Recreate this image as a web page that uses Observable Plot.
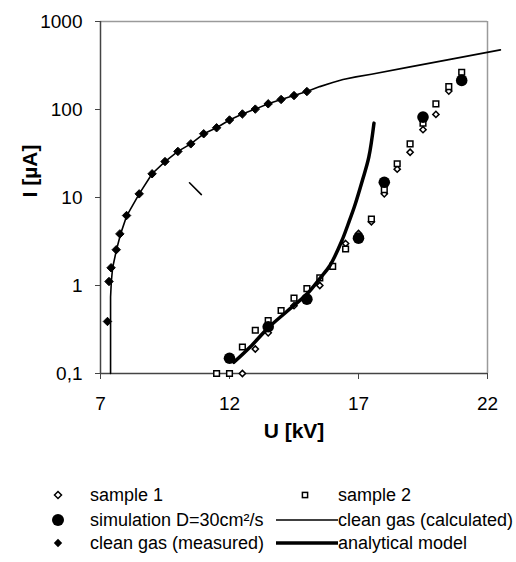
<!DOCTYPE html>
<html><head><meta charset="utf-8">
<script src="https://cdn.jsdelivr.net/npm/d3@7"></script>
<script src="https://cdn.jsdelivr.net/npm/@observablehq/plot@0.6"></script>
<style>
body{margin:0;background:#fff;font-family:"Liberation Sans",Arial,sans-serif;}
#legend{position:relative;width:516px;height:92px;font-size:18px;color:#000;}
#legend .sw{position:absolute;}
#legend .tx{position:absolute;line-height:22px;white-space:nowrap;}
</style></head>
<body><div id="chart"></div><div id="legend"></div>
<script>
// ---- data ----
const xTicks = [7, 12, 17, 22];
const yTicks = [0.1, 1, 10, 100, 1000];
const yTickLabels = ["0,1", "1", "10", "100", "1000"];

const sample1U = [12.5, 13.0, 13.5, 14.5, 15.5, 16.5, 17.0, 17.5, 18.0, 18.5, 19.0, 19.5, 20.0, 20.5];
const sample1I = [0.1, 0.19, 0.29, 0.59, 1.0, 3.0, 3.9, 5.3, 11.0, 21, 32.7, 59, 88, 162];

const sample2U = [11.5, 12.0, 12.5, 13.0, 13.5, 14.0, 14.5, 15.0, 15.5, 16.0, 16.5, 17.0, 17.5, 18.0, 18.5, 19.0, 19.5, 20.0, 20.5, 21.0];
const sample2I = [0.1, 0.1, 0.2, 0.31, 0.4, 0.52, 0.72, 0.92, 1.22, 1.65, 2.6, 3.4, 5.7, 12.3, 24.2, 40.7, 70, 116, 182, 265];

const simU = [12.0, 13.5, 15.0, 17.0, 18.0, 19.5, 21.0];
const simI = [0.149, 0.34, 0.70, 3.45, 14.9, 82, 214];

const calcU = [7.39, 7.39, 7.42, 7.47, 7.62, 7.78, 8.02, 8.5, 9.0, 9.5, 10.0, 10.5, 11.0, 11.5, 12.0, 12.5, 13.0, 13.5, 14.0, 14.5, 15.0, 15.5, 16.0, 16.4, 16.9, 17.5, 19.0, 20.5, 22.5];
const calcI = [0.1, 0.74, 1.11, 1.59, 2.55, 3.86, 6.24, 11, 18.6, 25.6, 33.4, 40.7, 53, 62, 76, 89, 101, 116, 130, 144, 160, 182, 203, 219, 235, 252, 305, 369, 476];

const measU = [7.27, 7.33, 7.41, 7.61, 7.75, 8.01, 8.5, 9.0, 9.5, 10.0, 10.5, 11.0, 11.5, 12.0, 12.5, 13.0, 13.5, 14.0, 14.5, 15.0];
const measI = [0.39, 1.11, 1.59, 2.55, 3.86, 6.24, 11.0, 18.6, 25.6, 33.4, 40.7, 53, 62, 76, 89, 101, 116, 130, 144, 160];

const analU = [12.17, 12.8, 13.5, 14.2, 15.0, 15.5, 15.9, 16.35, 16.6, 16.85, 17.15, 17.4, 17.6];
const analI = [0.134, 0.2, 0.33, 0.5, 0.8, 1.2, 1.7, 3.2, 5.0, 8.0, 15.6, 28.7, 70];

const strayU = [10.45, 10.91];
const strayI = [14.7, 10.8];

const legendLabels = ["sample 1", "sample 2", "simulation D=30cm²/s", "clean gas (calculated)", "clean gas (measured)", "analytical model"];

// ---- build tables ----
const zip = (U, I) => U.map((u, i) => ({U: u, I: I[i]}));
const sample1 = zip(sample1U, sample1I);
const sample2 = zip(sample2U, sample2I);
const sim = zip(simU, simI);
const calc = zip(calcU, calcI);
const meas = zip(measU, measI);
const anal = zip(analU, analI);
const stray = zip(strayU, strayI);

const chart = Plot.plot({
  width: 516,
  height: 470,
  marginTop: 21,
  marginLeft: 100,
  marginRight: 29,
  marginBottom: 97,
  style: {fontFamily: '"Liberation Sans", Arial, sans-serif', background: "#fff", color: "#000", overflow: "visible"},
  x: {domain: [7, 22]},
  y: {type: "log", domain: [0.1, 1000]},
  marks: [
    Plot.ruleY([1000], {stroke: "#9a9a9a", strokeWidth: 1.5}),
    Plot.ruleX([22], {stroke: "#9a9a9a", strokeWidth: 1.5}),
    Plot.ruleX([7], {stroke: "#444", strokeWidth: 1.5}),
    Plot.ruleY([0.1], {stroke: "#444", strokeWidth: 1.5}),
    Plot.axisX({ticks: xTicks, tickSize: 6, tickPadding: 17, fontSize: 19, stroke: "#444", fill: "#000", label: null, tickFormat: d => String(d)}),
    Plot.axisY({ticks: yTicks, tickSize: 5, tickPadding: 13, fontSize: 19, stroke: "#444", fill: "#000", label: null, tickFormat: d => yTickLabels[yTicks.indexOf(d)]}),
    Plot.text(["U [kV]"], {frameAnchor: "bottom", dy: 64, text: d => d, fontSize: 21, fontWeight: "bold"}),
    Plot.text(["I [µA]"], {frameAnchor: "left", dx: -70, text: d => d, rotate: -90, fontSize: 21, fontWeight: "bold"}),
    Plot.dot(sample1, {x: "U", y: "I", symbol: "diamond2", r: 2.8, stroke: "#000", strokeWidth: 1.5, fill: "#fff"}),
    Plot.dot(sample2, {x: "U", y: "I", symbol: "square2", r: 3.6, stroke: "#000", strokeWidth: 1.5, fill: "#fff"}),
    Plot.dot(sim, {x: "U", y: "I", r: 5.8, fill: "#000", stroke: "none"}),
    Plot.line(calc, {x: "U", y: "I", stroke: "#000", strokeWidth: 1.6, curve: "linear"}),
    Plot.dot(meas, {x: "U", y: "I", symbol: "diamond2", r: 3.8, fill: "#000", stroke: "#000", strokeWidth: 1}),
    Plot.line(anal, {x: "U", y: "I", stroke: "#000", strokeWidth: 3.5, curve: "catmull-rom"}),
    Plot.line(stray, {x: "U", y: "I", stroke: "#000", strokeWidth: 1.6})
  ]
});
document.getElementById("chart").appendChild(chart);

// ---- legend ----
const legend = document.getElementById("legend");
const rows = [25, 50, 73];
const swatches = [
  `<svg width="12" height="12" viewBox="-6 -6 12 12"><path d="M0,-3.5L3.5,0L0,3.5L-3.5,0Z" fill="#fff" stroke="#000" stroke-width="1.5"/></svg>`,
  `<svg width="12" height="12" viewBox="-6 -6 12 12"><rect x="-2.6" y="-2.6" width="5.2" height="5.2" fill="#fff" stroke="#000" stroke-width="1.5"/></svg>`,
  `<svg width="14" height="14" viewBox="-7 -7 14 14"><circle r="6" fill="#000"/></svg>`,
  `<svg width="62" height="8" viewBox="0 -4 62 8"><line x1="0" x2="62" y1="0" y2="0" stroke="#000" stroke-width="1.6"/></svg>`,
  `<svg width="12" height="12" viewBox="-6 -6 12 12"><path d="M0,-4.2L4.2,0L0,4.2L-4.2,0Z" fill="#000"/></svg>`,
  `<svg width="62" height="8" viewBox="0 -4 62 8"><line x1="0" x2="62" y1="0" y2="0" stroke="#000" stroke-width="3.5"/></svg>`
];
const swLeft = [52, 299, 51, 276, 52, 276];
const swSize = [12, 12, 14, 8, 12, 8];
const txLeft = [90, 338, 90, 338, 90, 338];
legendLabels.forEach((lab, i) => {
  const r = rows[Math.floor(i / 2)];
  const sw = document.createElement("div");
  sw.className = "sw";
  sw.style.left = swLeft[i] + "px";
  sw.style.top = (r - swSize[i] / 2) + "px";
  sw.style.height = swSize[i] + "px";
  sw.style.lineHeight = "0";
  sw.innerHTML = swatches[i];
  legend.appendChild(sw);
  const tx = document.createElement("div");
  tx.className = "tx";
  tx.style.left = txLeft[i] + "px";
  tx.style.top = (r - 11) + "px";
  tx.textContent = lab;
  legend.appendChild(tx);
});
</script>
</body></html>
